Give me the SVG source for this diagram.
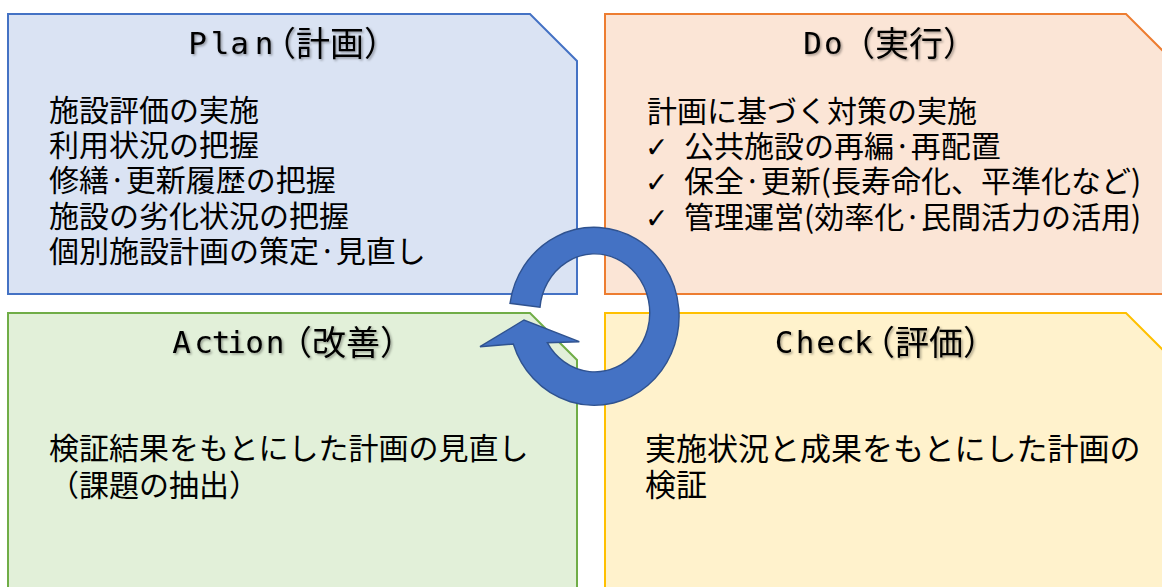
<svg xmlns="http://www.w3.org/2000/svg" width="1162" height="587" viewBox="0 0 1162 587">
  <defs>
    <filter id="shadow" x="-10%" y="-30%" width="120%" height="160%">
      <feDropShadow dx="1.5" dy="1.5" stdDeviation="1.2" flood-color="#000" flood-opacity="0.35"/>
    </filter>
    <style>
      .box { stroke-width: 2; stroke-linejoin: miter; }
      .plan { fill: #DAE3F3; stroke: #4472C4; }
      .do { fill: #FBE5D6; stroke: #ED7D31; }
      .action { fill: #E2F0D9; stroke: #70AD47; }
      .check { fill: #FFF2CC; stroke: #FFC000; }
      text { font-family: "Noto Sans CJK JP", "Noto Sans", sans-serif; fill: #000; }
      .title { filter: url(#shadow); }
      .lat { font-family: "DejaVu Sans Mono", monospace; font-size: 31px; }
      .cjk { font-size: 34px; }
      .body { font-size: 30px; }
      .body31 { font-size: 31px; }
      .chk { font-family: "DejaVu Sans", sans-serif; font-size: 28px; font-weight: bold; }
      .cycle { fill: #4472C4; stroke: #2F528F; stroke-width: 1.4; stroke-linejoin: miter; }
    </style>
  </defs>

  <g id="node-plan">
    <path class="box plan" d="M 8,14 H 530 L 577,61 V 294 H 8 Z"/>
    <text class="title"><tspan class="lat" x="188.2 210.7 230.2 254.7" y="54">Plan</tspan><tspan class="cjk" x="262" y="55.5">（計画）</tspan></text>
    <text class="body">
      <tspan x="49" y="121">施設評価の実施</tspan>
      <tspan x="49" y="156.2">利用状況の把握</tspan>
      <tspan x="49" y="191.4">修繕·更新履歴の把握</tspan>
      <tspan x="49" y="226.6">施設の劣化状況の把握</tspan>
      <tspan x="49" y="261.8">個別施設計画の策定·見直し</tspan>
    </text>
  </g>

  <g id="node-do">
    <path class="box do" d="M 605,14 H 1126 L 1174,62 V 294 H 605 Z"/>
    <text class="title"><tspan class="lat" x="803.2 824" y="54">Do</tspan><tspan class="cjk" x="841" y="55.5">（実行）</tspan></text>
    <text class="body">
      <tspan x="647" y="121.5">計画に基づく対策の実施</tspan>
      <tspan class="chk" x="645" y="156.5">✓</tspan><tspan x="684" y="156.5">公共施設の再編·再配置</tspan>
      <tspan class="chk" x="645" y="192">✓</tspan><tspan x="684" y="192">保全·更新(長寿命化、平準化など)</tspan>
      <tspan class="chk" x="645" y="227.5">✓</tspan><tspan x="684" y="227.5">管理運営(効率化·民間活力の活用)</tspan>
    </text>
  </g>

  <g id="node-action">
    <path class="box action" d="M 8,313 H 530 L 577,360 V 600 H 8 Z"/>
    <text class="title"><tspan class="lat" x="172.2 194.2 211.7 227.2 245.2 265.7" y="352.5">Action</tspan><tspan class="cjk" x="278" y="355">（改善）</tspan></text>
    <text class="body">
      <tspan x="49" y="459">検証結果をもとにした計画の見直し</tspan>
      <tspan x="49" y="496">（課題の抽出）</tspan>
    </text>
  </g>

  <g id="node-check">
    <path class="box check" d="M 605,313 H 1126 L 1174,361 V 600 H 605 Z"/>
    <text class="title"><tspan class="lat" x="774.7 795.7 816.2 835.7 854" y="352.5">Check</tspan><tspan class="cjk" x="861" y="355">（評価）</tspan></text>
    <text class="body31">
      <tspan x="645" y="459.5">実施状況と成果をもとにした計画の</tspan>
      <tspan x="645" y="496">検証</tspan>
    </text>
  </g>

  <g id="connectors">
    <path class="cycle" d="M 510,303.3 A 85,89 0 1 1 513.3,344 L 480,346.7 L 524,320 L 579.3,341.7 L 547.3,342.7 A 55,59 0 1 0 540,307.3 Z"/>
  </g>
</svg>
